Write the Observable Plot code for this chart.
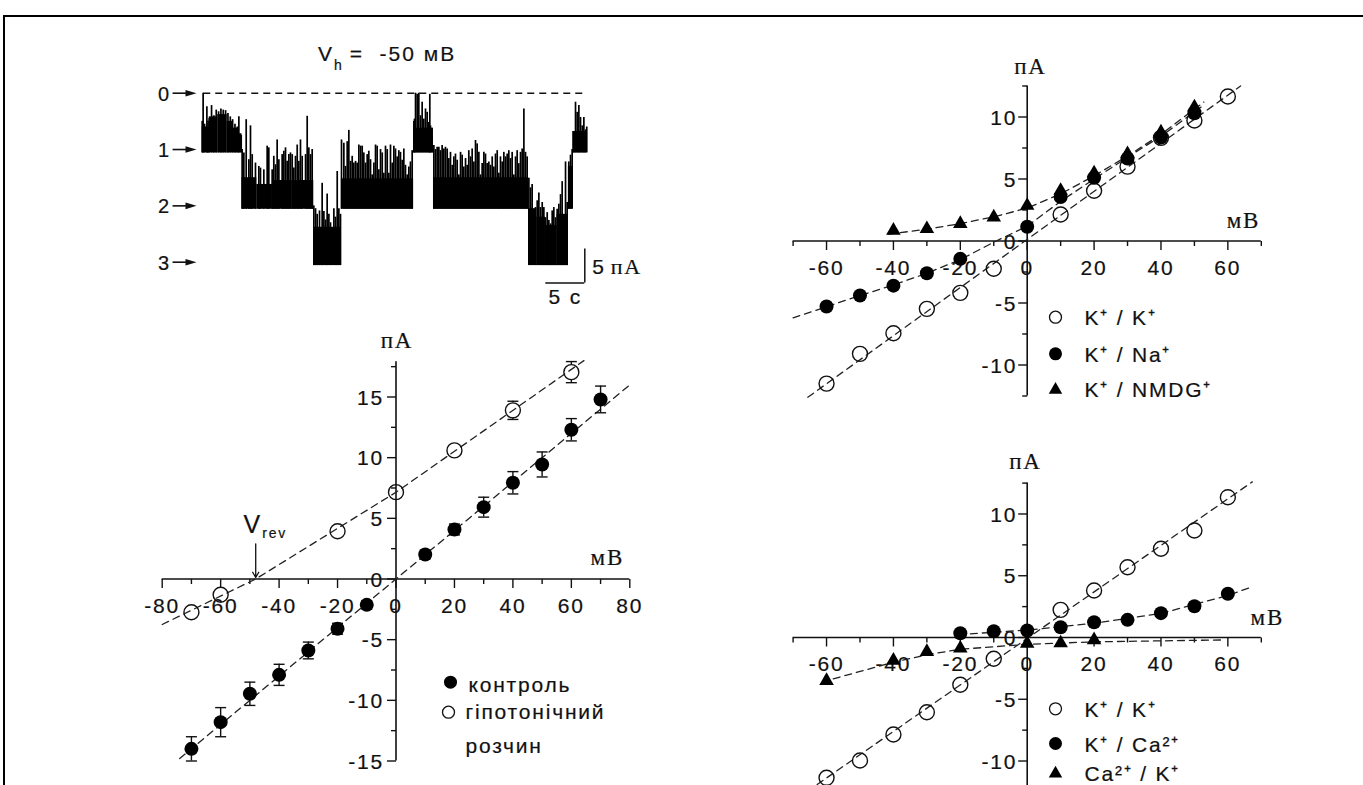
<!DOCTYPE html>
<html><head><meta charset="utf-8">
<script src="https://cdn.jsdelivr.net/npm/d3@7"></script>
<script src="https://cdn.jsdelivr.net/npm/@observablehq/plot@0.6"></script>
<style>
html,body{margin:0;padding:0;background:#fff;}
#fig{position:relative;width:1363px;height:785px;overflow:hidden;background:#fff;font-family:"Liberation Sans",Arial,sans-serif;color:#111;}
#frame{position:absolute;left:3px;top:15px;right:-10px;bottom:-10px;border-top:2px solid #000;border-left:2px solid #000;}
.panel{position:absolute;}
.panel svg text{letter-spacing:1.8px;stroke:#111;stroke-width:0.2px;}
#titleA{position:absolute;left:318px;top:43px;font-size:21px;line-height:21px;letter-spacing:2px;white-space:pre;-webkit-text-stroke:0.2px #111;}
#titleA sub{font-size:14px;vertical-align:-9px;letter-spacing:0;}
</style></head>
<body>
<div id="fig">
  <div id="frame"></div>
  <div id="titleA">V<sub>h</sub> =  -50 мВ</div>
  <div class="panel" id="pA" style="left:150px;top:30px;width:480px;height:290px"></div>
  <div class="panel" id="pB" style="left:100px;top:330px;width:560px;height:455px"></div>
  <div class="panel" id="pC" style="left:760px;top:40px;width:560px;height:370px"></div>
  <div class="panel" id="pD" style="left:760px;top:430px;width:560px;height:355px"></div>
</div>
<script>
// ---------------- Panel A: single-channel record ----------------
const levels = [0, 1, 2, 3];
const traceStart = 0.2, traceEnd = 49.35;     // s
const scaleBarPA = 5, scaleBarS = 5, unitCurrentPA = 8.25;
// dense blocks: [t0, t1, level, upper edge of dense noise]
const traceBlocks = [
  [0,0.9,1,0.6],[0.9,2.0,1,0.42],[2.0,3.2,1,0.38],[3.2,4.0,1,0.5],[4.0,4.6,1,0.62],[4.6,5.1,1,0.72],
  [5.1,7.0,2,1.5],[7.0,9.0,2,1.62],[9.0,11.5,2,1.55],[11.5,14.3,2,1.55],
  [14.3,17.85,3,2.38],
  [17.85,27.1,2,1.52],
  [27.1,29.65,1,0.62],
  [29.65,41.85,2,1.5],
  [41.85,42.9,3,2.05],[42.9,44.0,3,2.2],[44.0,45.5,3,2.35],[45.5,46.95,3,2.15],
  [46.95,47.5,2,1.3],
  [47.5,49.3,1,0.68]
];
// spikes: [t, level, top]
const traceSpikes = [
  [0.00,1,0.5],[0.12,1,0.0],[0.30,1,0.55],[0.6,1,0.24],[0.75,1,0.5],[0.9,1,0.45],[1.2,1,0.22],[1.5,1,0.4],[1.8,1,0.3],[2.1,1,0.33],[2.4,1,0.28],[2.7,1,0.3],[3.0,1,0.31],[3.3,1,0.36],[3.6,1,0.42],[3.9,1,0.47],[4.2,1,0.55],[4.5,1,0.6],[4.7,1,0.42],[5.0,1,0.75],
  [5.12,2,1.0],[5.34,2,1.06],[5.64,2,0.47],[5.98,2,1.18],[6.19,2,0.58],[6.41,2,1.09],[6.83,2,1.24],[7.26,2,1.30],[7.47,2,1.33],[7.90,2,1.36],[8.33,2,0.94],[8.54,2,0.97],[8.97,2,1.36],[9.18,2,1.12],[9.40,2,1.27],[9.61,2,0.83],[9.83,2,1.18],[10.25,2,1.09],[10.47,2,1.03],[10.68,2,0.97],[10.89,2,1.21],[11.11,2,1.09],[11.32,2,1.06],[11.54,2,1.09],[11.75,2,1.33],[11.96,2,1.12],[12.18,2,0.92],[12.39,2,1.21],[12.60,2,0.83],[12.82,2,1.12],[13.25,2,1.09],[13.46,2,0.41],[13.67,2,0.97],[13.89,2,1.09],[14.10,2,1.0],
  [14.31,3,2.0],[14.53,3,2.05],[14.74,3,2.15],[15.04,3,2.09],[15.38,3,1.6],[15.60,3,2.1],[15.81,3,2.25],[16.02,3,1.79],[16.24,3,2.15],[16.45,3,2.3],[16.88,3,2.05],[17.09,3,2.2],[17.31,3,1.39],[17.52,3,2.05],[17.73,3,2.15],
  [17.86,2,0.83],[18.16,2,0.89],[18.37,2,1.3],[18.59,2,0.86],[18.80,2,0.66],[19.02,2,1.21],[19.23,2,1.12],[19.44,2,1.24],[19.66,2,1.21],[19.87,2,1.24],[20.08,2,0.92],[20.30,2,0.94],[20.51,2,0.94],[20.72,2,1.06],[20.94,2,1.24],[21.15,2,1.09],[21.36,2,1.03],[21.58,2,1.18],[21.79,2,1.45],[22.01,2,1.24],[22.22,2,0.92],[22.43,2,0.94],[22.65,2,1.36],[22.86,2,1.0],[23.08,2,1.06],[23.29,2,1.42],[23.50,2,0.94],[23.72,2,1.0],[23.93,2,1.42],[24.14,2,0.92],[24.36,2,1.24],[24.57,2,0.94],[24.78,2,0.99],[25.0,2,1.13],[25.21,2,1.02],[25.42,2,1.05],[25.64,2,1.19],[25.85,2,0.99],[26.06,2,1.28],[26.28,2,1.45],[26.49,2,1.31],[26.70,2,1.22],[26.92,2,1.02],
  [27.13,1,0.5],[27.22,1,0.46],[27.35,1,0.0],[27.56,1,0.02],[27.77,1,0.0],[27.99,1,0.4],[28.20,1,0.16],[28.41,1,0.46],[28.63,1,0.28],[28.84,1,0.34],[29.06,1,0.52],[29.18,1,0.02],[29.27,1,0.58],[29.48,1,0.78],
  [29.70,2,0.93],[29.91,2,1.0],[30.12,2,0.96],[30.34,2,0.96],[30.55,2,1.02],[30.76,2,0.93],[30.98,2,0.99],[31.19,2,0.96],[31.41,2,0.99],[31.62,2,1.16],[31.83,2,1.05],[32.05,2,1.28],[32.26,2,1.13],[32.47,2,1.08],[32.69,2,1.19],[32.90,2,1.45],[33.12,2,1.05],[33.33,2,1.1],[33.54,2,1.31],[33.76,2,1.16],[33.97,2,1.28],[34.18,2,1.02],[34.40,2,1.13],[34.61,2,0.99],[34.83,2,1.22],[35.04,2,0.84],[35.25,2,0.9],[35.47,2,1.05],[35.68,2,1.45],[35.89,2,1.25],[36.11,2,1.05],[36.32,2,1.08],[36.53,2,1.25],[36.75,2,1.22],[36.96,2,1.28],[37.18,2,1.13],[37.39,2,1.31],[37.60,2,1.08],[37.82,2,1.02],[38.03,2,1.42],[38.24,2,1.13],[38.46,2,1.22],[38.67,2,1.05],[38.89,2,1.13],[39.10,2,1.08],[39.31,2,1.02],[39.53,2,1.16],[39.74,2,1.05],[39.95,2,1.45],[40.17,2,1.13],[40.38,2,1.02],[40.59,2,1.25],[40.81,2,1.05],[41.02,2,0.99],[41.24,2,0.28],[41.45,2,1.05],[41.66,2,1.13],
  [41.88,3,1.51],[42.09,3,1.68],[42.30,3,1.62],[42.52,3,2.09],[42.73,3,2.03],[42.95,3,1.91],[43.16,3,1.77],[43.37,3,2.03],[43.59,3,1.94],[43.80,3,2.03],[44.01,3,2.21],[44.23,3,2.12],[44.44,3,2.26],[44.66,3,2.32],[44.87,3,2.09],[45.08,3,2.03],[45.30,3,2.21],[45.51,3,2.06],[45.72,3,1.97],[45.94,3,1.8],[46.15,3,1.57],[46.36,3,2.26],[46.58,3,1.22],[46.79,3,1.94],
  [47.0,2,1.22],[47.22,2,1.1],[47.43,2,1.0],
  [47.65,1,0.93],[47.86,1,0.16],[48.07,1,0.34],[48.29,1,0.22],[48.50,1,0.43],[48.72,1,0.58],[48.93,1,0.43],[49.14,1,0.65],[49.3,1,0.6]
];

// ---------------- Panel B: I-V, control vs hypotonic ----------------
const bVoltage     = [-70,-60,-50,-40,-30,-20,-10,10,20,30,40,50,60,70];
const bControl     = [-14.0,-11.8,-9.46,-7.9,-5.89,-4.1,-2.13,2.02,4.08,5.92,7.93,9.44,12.3,14.8];
const bControlErr  = [1.0,1.2,0.96,0.87,0.69,0.45,0.35,0.35,0.45,0.82,0.92,1.03,0.92,1.1];
const bHypoVoltage = [-70,-60,-20,0,20,40,60];
const bHypo        = [-2.74,-1.3,3.94,7.16,10.6,13.9,17.05];
const bHypoErr     = [0.3,0.45,0.3,0.3,0.4,0.75,0.87];
const bControlFit  = [[-74,-14.8],[80,16.0]];
const bHypoFit     = [[-80,-3.75],[-48,0],[0,7.15],[64.3,18.0]];
const bVrev = -48;
const bLegend = ["контроль", "гіпотонічний", "розчин"];

// ---------------- Panel C: K+/K+, K+/Na+, K+/NMDG+ ----------------
const cVoltageKK   = [-60,-50,-40,-30,-20,-10,10,20,30,40,50,60];
const cKK          = [-11.5,-9.1,-7.44,-5.47,-4.18,-2.24,2.14,4.05,6.0,8.32,9.72,11.65];
const cVoltageNa   = [-60,-50,-40,-30,-20,0,10,20,30,40,50];
const cNa          = [-5.28,-4.4,-3.6,-2.6,-1.44,1.15,3.55,5.1,6.65,8.35,10.3];
const cVoltageNMDG = [-40,-30,-20,-10,0,10,20,30,40,50];
const cNMDG        = [0.85,0.98,1.39,1.92,2.86,4.07,5.47,7.03,8.77,10.8];
const cKKFit   = [[-65.6,-12.6],[63.8,12.5]];
const cNaFit   = [[-70,-6.2],[-60,-5.3],[-50,-4.4],[-40,-3.55],[-30,-2.6],[-20,-1.5],[-10,-0.1],[0,1.2],[10,3.2],[20,5.0],[30,6.75],[40,8.45],[52,10.8]];
const cNMDGFit = [[-41.5,0.55],[-30,0.95],[-20,1.4],[-10,1.95],[0,2.65],[10,3.8],[20,5.25],[30,6.85],[40,8.6],[52.8,11.2]];
const cLegend = ["K⁺ / K⁺", "K⁺ / Na⁺", "K⁺ / NMDG⁺"];

// ---------------- Panel D: K+/K+, K+/Ca2+, Ca2+/K+ ----------------
const dVoltageKK  = [-60,-50,-40,-30,-20,-10,10,20,30,40,50,60];
const dKK         = [-11.36,-9.96,-7.85,-6.05,-3.83,-1.72,2.24,3.81,5.69,7.18,8.66,11.36];
const dVoltageCa  = [-20,-10,0,10,20,30,40,50,60];
const dCa         = [0.35,0.51,0.57,0.83,1.24,1.43,1.97,2.53,3.54];
const dVoltageCaK = [-60,-40,-30,-20,0,10,20];
const dCaK        = [-3.5,-1.86,-1.15,-0.88,-0.48,-0.45,-0.2];
const dKKFit  = [[-62.8,-11.9],[67.3,12.6]];
const dCaFit  = [[-17,0.3],[0,0.6],[20,1.15],[40,1.95],[60,3.4],[67.2,4.1]];
const dCaKFit = [[-58,-3.35],[-40,-2.0],[-30,-1.4],[-20,-0.95],[0,-0.55],[20,-0.35],[58,-0.2]];
const dLegend = ["K⁺ / K⁺", "K⁺ / Ca²⁺", "Ca²⁺ / K⁺"];

// ticks
const bXMajor = [-80,-60,-40,-20,0,20,40,60,80], bXMinor = [-70,-50,-30,-10,10,30,50,70];
const bYMajor = [-15,-10,-5,0,5,10,15], bYMinor = [-12.5,-7.5,-2.5,2.5,7.5,12.5,17.5];
const cdXMajor = [-60,-40,-20,0,20,40,60], cdXMinor = [-70,-50,-30,-10,10,30,50,70];
const cdYMajor = [-10,-5,0,5,10], cdYMinor = [-12.5,-7.5,-2.5,2.5,7.5,12.5];

// ---------------- helpers ----------------
const ink = "#111";
const sans = "Liberation Sans, Arial, sans-serif";
const serif = "Liberation Serif, Times New Roman, serif";
const vTick = len => ({draw(c){ c.moveTo(0,0); c.lineTo(0,len); }});
const hTick = len => ({draw(c){ c.moveTo(0,0); c.lineTo(-len,0); }});
const capSym = {draw(c){ c.moveTo(-5.5,0); c.lineTo(5.5,0); }};
const headRight = {draw(c){ c.moveTo(0,0); c.lineTo(-11,-3.3); c.lineTo(-11,3.3); c.closePath(); }};
const pts = (xs, ys, es) => xs.map((x,i) => ({x, y: ys[i], e: es ? es[i] : 0}));
const baseStyle = {fontFamily: sans, fontSize: "21px", background: "transparent", overflow: "visible", color: ink};
const dash = "7,5";
const FS = 21;

function axes({xMajor, xMinor, yMajor, yMinor, xMin, xMax, yMin, yMax, xLabels, yLabelDx, xLabelDy}) {
  return [
    Plot.ruleY([0], {x1: xMin, x2: xMax, stroke: ink, strokeWidth: 1.6}),
    Plot.ruleX([0], {y1: yMin, y2: yMax, stroke: ink, strokeWidth: 1.6}),
    Plot.dot(xMajor, {x: d => d, y: 0, symbol: vTick(9), stroke: ink, strokeWidth: 1.4, fill: "none"}),
    Plot.dot(xMinor, {x: d => d, y: 0, symbol: vTick(5), stroke: ink, strokeWidth: 1.4, fill: "none"}),
    Plot.dot(yMajor, {x: 0, y: d => d, symbol: hTick(9), stroke: ink, strokeWidth: 1.4, fill: "none"}),
    Plot.dot(yMinor, {x: 0, y: d => d, symbol: hTick(5), stroke: ink, strokeWidth: 1.4, fill: "none"}),
    Plot.text(xLabels, {x: d => d, y: 0, dy: xLabelDy, text: d => String(d), fontSize: FS, fill: ink}),
    Plot.text(yMajor, {x: 0, y: d => d, dx: yLabelDx, dy: 1, textAnchor: "end", text: d => String(d), fontSize: FS, fill: ink})
  ];
}
// legend text positioned in the panel's pixel frame
const legText = (t, dx, dy) => Plot.text([t], {frameAnchor: "top-left", lineAnchor: "middle", dx, dy, textAnchor: "start", text: d => d, fontSize: 21, fill: ink});

// ---------------- Panel A ----------------
const barT = 49.05, barLevel = 3.37, barLen = scaleBarPA / unitCurrentPA;
const A = Plot.plot({
  width: 480, height: 290, margin: 0, style: baseStyle,
  x: {domain: [0, 49.05], range: [51.7, 434.3], axis: null},
  y: {domain: [0, 3], range: [62.7, 231.7], axis: null},
  marks: [
    Plot.ruleY([0], {x1: traceStart, x2: traceEnd, stroke: ink, strokeWidth: 1.5, strokeDasharray: dash}),
    Plot.rect(traceBlocks, {x1: d => d[0], x2: d => d[1], y1: d => d[2] + 0.06, y2: d => d[3], fill: "#000"}),
    Plot.ruleX(traceSpikes, {x: d => d[0], y1: d => d[1] + 0.06, y2: d => d[2], stroke: "#000", strokeWidth: 1.7}),
    Plot.text(levels, {x: 0, y: d => d, dx: -37.7, dy: 1, text: d => String(d), fontSize: 20, fill: ink}),
    Plot.link(levels, {x1: -3.8, x2: -1.6, y1: d => d, y2: d => d, stroke: ink, strokeWidth: 1.6}),
    Plot.dot(levels, {x: -0.73, y: d => d, symbol: headRight, fill: ink, stroke: "none"}),
    Plot.ruleX([barT], {y1: barLevel - barLen, y2: barLevel, stroke: ink, strokeWidth: 1.5}),
    Plot.ruleY([barLevel], {x1: barT - scaleBarS, x2: barT, stroke: ink, strokeWidth: 1.5}),
    Plot.text([scaleBarPA], {x: barT, y: barLevel - barLen / 2, dx: 7.5, dy: 1, textAnchor: "start", text: d => String(d), fontSize: FS, fill: ink}),
    Plot.text(["пА"], {x: barT, y: barLevel - barLen / 2, dx: 26, dy: 1, textAnchor: "start", text: d => d, fontSize: 22, fontFamily: serif, fill: ink}),
    Plot.text([scaleBarS + " с"], {x: barT - scaleBarS / 2, y: barLevel, dy: 14.5, text: d => d, fontSize: FS, fill: ink})
  ]
});
document.getElementById("pA").appendChild(A);

// ---------------- Panel B ----------------
const bC = pts(bVoltage, bControl, bControlErr);
const bH = pts(bHypoVoltage, bHypo, bHypoErr);
const bPx = (430.5 - 66.5) / 30;
const rOpenB = 7.5, rFillB = 7;
const bHVis = bH.filter(d => d.e * bPx > rOpenB + 1);
const B = Plot.plot({
  width: 560, height: 455, margin: 0, style: baseStyle,
  x: {domain: [-80, 80], range: [61.7, 529.3], axis: null},
  y: {domain: [-15, 15], range: [430.5, 66.5], axis: null},
  marks: [
    ...axes({xMajor: bXMajor, xMinor: bXMinor, yMajor: bYMajor, yMinor: bYMinor, xMin: -80, xMax: 80, yMin: -15, yMax: 17.9, xLabels: bXMajor, yLabelDx: -12, xLabelDy: 27.5}),
    Plot.text(["пА"], {x: 0, y: 17.9, dx: 1, dy: -21.5, text: d => d, fontFamily: serif, fontSize: 23, fill: ink}),
    Plot.text(["мВ"], {x: 80, y: 0, dx: -22.5, dy: -21.5, text: d => d, fontFamily: serif, fontSize: 23, fill: ink}),
    Plot.line(bControlFit, {x: d => d[0], y: d => d[1], stroke: "#222", strokeWidth: 1.3, strokeDasharray: dash}),
    Plot.line(bHypoFit, {x: d => d[0], y: d => d[1], stroke: "#222", strokeWidth: 1.3, strokeDasharray: dash}),
    // error bars (control)
    Plot.ruleX(bC, {x: "x", y1: d => d.y - d.e, y2: d => d.y + d.e, stroke: ink, strokeWidth: 1.4}),
    Plot.dot(bC, {x: "x", y: d => d.y + d.e, symbol: capSym, stroke: ink, strokeWidth: 1.4, fill: "none"}),
    Plot.dot(bC, {x: "x", y: d => d.y - d.e, symbol: capSym, stroke: ink, strokeWidth: 1.4, fill: "none"}),
    // error bars (hypotonic), outside the open circle
    Plot.ruleX(bHVis, {x: "x", y1: d => d.y + d.e, y2: "y", insetBottom: rOpenB, stroke: ink, strokeWidth: 1.4}),
    Plot.ruleX(bHVis, {x: "x", y1: "y", y2: d => d.y - d.e, insetTop: rOpenB, stroke: ink, strokeWidth: 1.4}),
    Plot.dot(bHVis, {x: "x", y: d => d.y + d.e, symbol: capSym, stroke: ink, strokeWidth: 1.4, fill: "none"}),
    Plot.dot(bHVis, {x: "x", y: d => d.y - d.e, symbol: capSym, stroke: ink, strokeWidth: 1.4, fill: "none"}),
    Plot.dot(bH, {x: "x", y: "y", r: rOpenB, stroke: ink, strokeWidth: 1.4, fill: "none"}),
    Plot.dot(bC, {x: "x", y: "y", r: rFillB, fill: "#000", stroke: "none"}),
    // V_rev annotation
    Plot.arrow([bVrev], {x1: d => d, x2: d => d, y1: 2.9, y2: 0.12, stroke: ink, strokeWidth: 1.3, headLength: 7}),
    Plot.text([bVrev], {x: d => d, y: 0, dx: -3, dy: -54, text: () => "V", fontSize: 25, fill: ink}),
    Plot.text([bVrev], {x: d => d, y: 0, dx: 6.5, dy: -45, textAnchor: "start", text: () => "rev", fontSize: 14, fill: ink}),
    // legend
    Plot.dot([0], {frameAnchor: "top-left", dx: 350, dy: 351.7, r: 6.5, fill: "#000", stroke: "none"}),
    Plot.dot([0], {frameAnchor: "top-left", dx: 348, dy: 381.7, r: 6, fill: "none", stroke: ink, strokeWidth: 1.3}),
    legText(bLegend[0], 368, 354.5),
    legText(bLegend[1], 365, 381.6),
    legText(bLegend[2], 365, 415.5)
  ]
});
document.getElementById("pB").appendChild(B);

// ---------------- Panels C & D ----------------
function ivPanel({height, yRange, yAxisMin, sOpen, sFill, sTri, fits, legend, legendY, paLabel, mvLabel}) {
  return Plot.plot({
    width: 560, height, margin: 0, style: baseStyle,
    x: {domain: [-70, 70], range: [32.6, 500.8], axis: null},
    y: {domain: [-12.5, 12.5], range: yRange, axis: null},
    marks: [
      ...axes({xMajor: cdXMajor, xMinor: cdXMinor, yMajor: cdYMajor, yMinor: cdYMinor, xMin: -70, xMax: 70, yMin: yAxisMin, yMax: 12.5, xLabels: cdXMajor, yLabelDx: -10, xLabelDy: 26.8}),
      Plot.text(["пА"], {x: 0, y: 12.5, dx: paLabel[0], dy: paLabel[1], text: d => d, fontFamily: serif, fontSize: 23, fill: ink}),
      Plot.text(["мВ"], {x: 70, y: 0, dx: mvLabel[0], dy: mvLabel[1], text: d => d, fontFamily: serif, fontSize: 23, fill: ink}),
      ...fits.map(f => Plot.line(f, {x: d => d[0], y: d => d[1], stroke: "#222", strokeWidth: 1.3, strokeDasharray: dash})),
      Plot.dot(sOpen, {x: "x", y: "y", r: 7.5, stroke: ink, strokeWidth: 1.4, fill: "none"}),
      Plot.dot(sFill, {x: "x", y: "y", r: 7, fill: "#000", stroke: "none"}),
      Plot.dot(sTri, {x: "x", y: "y", r: 5.4, symbol: "triangle", fill: "#000", stroke: "none"}),
      // legend
      Plot.dot([0], {frameAnchor: "top-left", dx: 295, dy: legendY[0], r: 6, fill: "none", stroke: ink, strokeWidth: 1.3}),
      Plot.dot([0], {frameAnchor: "top-left", dx: 295, dy: legendY[1], r: 6.5, fill: "#000", stroke: "none"}),
      Plot.dot([0], {frameAnchor: "top-left", dx: 295, dy: legendY[2] + 1, r: 5, symbol: "triangle", fill: "#000", stroke: "none"}),
      ...legend.map((t, i) => legText(t, 324, legendY[i] + 1.5))
    ]
  });
}

const C = ivPanel({
  height: 370, yRange: [355.5, 45.5], yAxisMin: -12.5,
  sOpen: pts(cVoltageKK, cKK), sFill: pts(cVoltageNa, cNa), sTri: pts(cVoltageNMDG, cNMDG),
  fits: [cKKFit, cNaFit, cNMDGFit], legend: cLegend, legendY: [276.7, 313.3, 348.3],
  paLabel: [3.3, -19], mvLabel: [-17.8, -20.5]
});
document.getElementById("pC").appendChild(C);

const D = ivPanel({
  height: 355, yRange: [361.4, 52.6], yAxisMin: -13.5,
  sOpen: pts(dVoltageKK, dKK), sFill: pts(dVoltageCa, dCa), sTri: pts(dVoltageCaK, dCaK),
  fits: [dKKFit, dCaFit, dCaKFit], legend: dLegend, legendY: [278.3, 313, 342],
  paLabel: [-1.7, -21], mvLabel: [6, -20.3]
});
document.getElementById("pD").appendChild(D);
</script>
</body></html>
